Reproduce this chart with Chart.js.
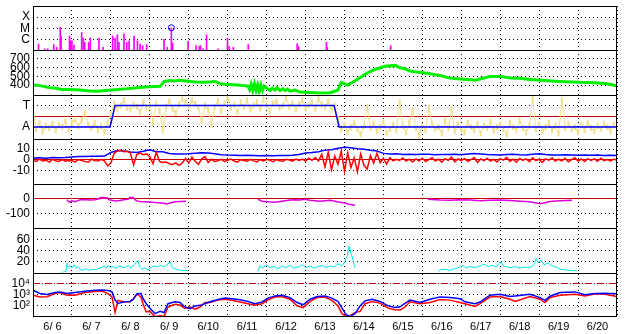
<!DOCTYPE html>
<html lang="en">
<head>
<meta charset="UTF-8">
<title>Space weather summary 6/6 - 6/20</title>
<script src="https://cdn.jsdelivr.net/npm/chart.js@4.4.0/dist/chart.umd.min.js"></script>
<style>
    html, body { margin: 0; padding: 0; background: #fff; }
    .chart-container { position: relative; width: 628px; height: 334px; }
</style>
</head>
<body>
<div class="chart-container"><canvas id="myChart" width="628" height="334"></canvas></div>
<script>
// time is in hours since 6/6 00:00 UT
const dayLabels = ['6/ 6', '6/ 7', '6/ 8', '6/ 9', '6/10', '6/11', '6/12', '6/13',
    '6/14', '6/15', '6/16', '6/17', '6/18', '6/19', '6/20'];

// X-ray flux peaks (W/m2)
const xrayHours = [3.4, 7.2, 9.1, 12.8, 14.6, 16.8, 17.3, 22.5, 23.1, 24.0,
    25.3, 30.0, 31.0, 31.9, 34.3, 35.3, 40.7, 43.2, 49.1, 50.6,
    52.0, 53.0, 56.1, 57.8, 59.2, 62.3, 64.4, 66.0, 67.6, 70.1,
    80.8, 82.8, 85.3, 86.1, 95.6, 100.5, 102.5, 103.3, 104.8, 107.0,
    114.2, 119.9, 121.0, 123.5, 132.7, 162.9, 163.7, 180.9, 181.5, 220.5];
const xrayFlux = [3.8e-7, 1.4e-7, 1.4e-7, 3.3e-7, 1.9e-7, 1.2e-5, 2.0e-6, 2.0e-6, 7.4e-7, 7.4e-7,
    3.1e-7, 4.1e-6, 1.3e-6, 5.3e-7, 5.3e-7, 1.3e-6, 1.3e-6, 1.9e-7, 2.0e-6, 1.3e-6,
    2.5e-6, 5.3e-7, 3.1e-6, 5.3e-7, 7.4e-7, 2.0e-6, 7.4e-7, 3.8e-7, 2.7e-7, 3.3e-7,
    1.0e-6, 1.9e-7, 1.1e-5, 4.6e-7, 6.5e-7, 2.7e-7, 2.3e-7, 2.7e-7, 1.4e-7, 2.5e-6,
    1.4e-7, 1.3e-6, 2.3e-7, 1.9e-7, 3.3e-7, 4.0e-7, 2.2e-7, 5.3e-7, 1.9e-7, 2.7e-7];
const flareMarkHours = [85.3];
const flareMarkFlux = [1.1e-5];

// solar wind speed (km/s)
const windHours = [0, 4.3, 9.2, 13.6, 17.9, 22.8, 29.0, 35.1, 40.1, 44.4,
    50.6, 56.7, 62.9, 69.0, 75.2, 78.3, 79.5, 80.8, 84.5, 87.5,
    90.6, 95.6, 99.9, 106.0, 110.4, 112.2, 115.3, 121.4, 127.6, 132.5,
    133.5, 134.5, 135.5, 136.5, 137.5, 138.5, 139.5, 140.5, 141.5, 142.5,
    146.1, 147.5, 149.2, 150.5, 152.3, 154.0, 155.4, 157.0, 158.4, 161.5,
    164.6, 170.8, 176.9, 183.1, 185.6, 188.0, 189.9, 191.7, 193.6, 196.7,
    200.4, 204.7, 209.0, 212.7, 217.0, 220.1, 223.2, 226.3, 229.3, 232.4,
    235.5, 238.6, 244.8, 250.9, 257.1, 263.2, 269.4, 272.5, 275.6, 281.7,
    287.9, 294.1, 300.2, 306.4, 315.6, 321.8, 328.0, 337.2, 346.5, 352.6,
    357.0, 360];
const windSpeed = [402, 395, 375, 365, 352, 350, 345, 335, 330, 340,
    348, 358, 368, 380, 385, 388, 410, 442, 452, 448,
    455, 445, 435, 432, 440, 445, 415, 408, 398, 390,
    350, 410, 335, 415, 340, 405, 325, 400, 340, 390,
    340, 365, 345, 372, 338, 360, 340, 355, 332, 345,
    322, 318, 312, 315, 328, 345, 430, 420, 400, 430,
    470, 525, 565, 590, 615, 622, 625, 598, 585, 560,
    552, 548, 530, 510, 480, 470, 462, 455, 470, 498,
    500, 482, 478, 465, 452, 445, 440, 432, 428, 420,
    405, 390];

// IMF sector: T = 1, A = -1
const sectorHours = [0, 47.5, 50.6, 185.6, 188.7, 360];
const sectorLevel = [-1, -1, 1, 1, -1, -1];
// IMF angle, 2-hour samples, same units
const phiStep = 2;
const phiValues = [0.8, -1.2, -0.6, -1.4, -0.9, -1.1, -0.7, -1.3, -0.8, -1.0, -0.5, -1.2, -0.6, -0.3, -0.9,
    -0.4, 0.3, -0.8, -1.1, -0.6, -1.3, -0.9, -1.5, -0.7,
    0.2,
    1.2, 0.7, 1.0, 1.5, 0.8, 0.6, 1.1, 0.9, 0.4, 1.3,
    0.8, 1.0, -0.6, 1.2, 0.5, -1.3, 0.9, 1.4, 0.7, 0.3,
    1.1, 1.6, 1.3, 0.9, 1.5, 1.2, 0.8, -0.4, 1.0, 0.6,
    -0.8, 0.9, 1.4, 0.5, 1.2, 1.7, 0.8, 1.1, 0.4, 1.3,
    0.9, 1.5, 0.6, 1.0, 1.3, 0.7, 1.6, 1.1, 0.5, 1.2,
    1.4, 0.8, 1.0, 1.7, 0.9, 1.2, 0.6, 1.1, 1.5, 0.8,
    1.0, 1.3, 0.7, 1.6, 1.1, 0.9, 1.4, 0.6, 1.0,
    -0.2,
    -1.3, -0.8, -1.5, -1.0, -0.6, -1.2, -1.7, -0.9, 0.9, -1.1,
    -0.7, -1.4, -1.0, -0.5, -1.6, -1.2, -0.8, -1.3, 1.3, -0.9,
    -1.5, -0.6, 0.5, -1.1, -1.8, -0.9, -1.3, 0.8, -0.7, -1.2,
    -1.0, -1.6, -0.4, -1.1, 0.6, -1.4, -0.8, -1.2, -1.5, -0.6,
    -1.0, -1.3, -0.7, -1.6, -0.9, -1.1, -0.5, -1.4, -1.0, -0.8,
    -1.2, -1.7, -0.6, -1.0, -1.3, -0.4, -1.1, -1.5, -0.9, 1.7,
    -1.2, -0.8, -1.4, -1.0, -0.6, -1.3, -0.9, -1.6, 1.5, -1.1,
    -0.7, -1.2, -1.0, -1.5, -0.8, -1.3, -0.6, -1.1, -1.4, -0.9,
    -1.2, -0.7, -1.0, -1.4, -0.8, -1.1];

// IMF Bz (2-hour samples) and Bt (4-hour samples), nT
const bzStep = 2;
const bzValues = [-0.5, -1.5, 0.8, -1.0, -0.3, -2.0, 0.5, -0.8, -1.5, 0.2, -1.2, -0.6,
    -0.9, -1.8, 0.3, -0.5, -1.4, -2.2, 0.6, -0.7, -1.0, 0.4, -0.8,
    -5.5, -3.0,
    6.0, 8.2, 8.8, 7.5, 8.0, 6.5,
    -4.5,
    5.0, 6.2, 4.8, 5.5, 3.0,
    -3.5, 7.0, -1.5, -2.5,
    -2.0, -3.5, -4.2, -2.8, -5.0, -3.0,
    1.5, -3.0, 2.5, -1.2, -4.0, 1.0, 3.0, -2.5, 0.5, -1.5,
    -0.8, 0.5, -1.5, -0.4, 0.8, -1.0, -2.0, 0.2, -0.6, -1.2, 0.4, -0.9, -1.8, 0.3,
    -1.0, 0.6, -0.5, -1.6, 0.2, -0.8, -1.3, 0.5, -0.2, -1.1, 0.7, -0.6,
    0.8, -1.2, 1.5, -0.4, 2.2, -0.9,
    5.0, -6.5, 7.0, -9.0, 3.5, -4.0, 8.0,
    -10.5, 6.5, -7.0, 2.0, -11.0, 5.5, -5.0, -8.5, 4.0, -3.0, 6.0,
    -2.5, 1.5, -4.0, 2.0, -1.0, 0.5,
    -0.5, 1.8, -1.2, 0.6, -2.0, 0.9, -0.8, 1.5, -1.5, 0.3,
    2.0, -1.0, 0.7, -2.2, 1.2, -0.4, 2.5, -1.8, 0.8, -0.6,
    1.4, -1.3, 0.2, 2.2, -2.5, 0.9, -0.7, 1.6, -1.1, 0.4,
    -1.9, 1.1, -0.3, 2.4, -1.4, 0.6, -2.1, 1.3, -0.5, 0.9,
    -1.6, 1.8, -0.8, 0.5, -2.3, 1.0, -0.2, 1.7, -1.2, 0.6,
    -0.9, 1.4, -1.7, 0.3, 2.0, -1.0, 0.8, -1.5, 1.2, -0.4,
    0.9, -1.3, 1.6, -0.7, 0.4, -1.1, 0.7, -0.3];
const btStep = 4;
const btValues = [1.8, 2.0, 1.6, 2.2, 1.9, 2.1, 2.6, 3.0, 3.2, 3.4, 3.3, 3.5,
    6.8, 8.6, 8.3, 7.2, 6.9, 8.0, 9.4, 7.6, 7.4, 5.8,
    5.5, 5.4, 5.6, 6.2, 6.5, 6.3, 5.6, 4.8, 4.4, 4.2,
    4.0, 4.3, 4.1, 3.9, 4.0, 3.8, 4.1, 4.0, 4.2, 5.0,
    6.3, 6.8, 7.5, 9.0, 9.3, 10.8, 11.6, 11.2, 10.2, 9.8,
    8.8, 8.2, 6.0, 5.4, 5.6, 5.0, 5.2, 4.9, 5.3, 5.1,
    4.8, 5.0, 4.9, 5.2, 4.7, 5.5, 5.8, 5.4, 5.0, 4.8,
    4.6, 4.9, 5.1, 4.7, 4.5, 5.2, 5.6, 5.0, 4.6, 4.4,
    4.8, 4.5, 4.3, 4.6, 4.2, 4.5, 4.1, 4.3, 4.0];

// Dst (nT), null = no data
const dstHours = [21.0, 21.6, 22.8, 24.0, 25.9, 27.7, 29.0, 32.1, 35.1, 38.2,
    40.7, 41.3, 43.2, 45.6, 46.9, 48.7, 50.6, 53.6, 56.7, 58.6,
    59.8, 61.7, 62.9, 64.1, 66.0, 69.0, 72.1, 75.2, 78.3, 81.4,
    82.6, 84.5, 87.5, 90.6, 94.3, 110,
    138.7, 141.2, 144.9, 149.2, 152.3, 155.4, 158.4, 161.5, 164.6, 167.7,
    170.8, 173.9, 176.9, 180.0, 183.1, 186.2, 189.3, 192.3, 195.5, 198.5, 220,
    243.5, 250.9, 257.1, 263.2, 269.4, 275.6, 281.7, 287.9, 294.1, 300.2,
    306.4, 312.6, 315.6, 318.7, 324.9, 332.3];
const dstValues = [-8, -20, -24, -15, -22, -14, -9, -9, -10, -8,
    -2, 5, 7, 6, -8, -12, -16, -14, -6, -5,
    7, 7, -8, -16, -20, -22, -24, -27, -28, -33,
    -37, -30, -22, -20, -18, null,
    -5, -18, -22, -25, -20, -15, -10, -8, -10, -5,
    -12, -15, -18, -15, -12, -18, -25, -30, -40, -45, null,
    -5, -10, -12, -8, -10, -15, -12, -10, -14, -18,
    -22, -35, -28, -20, -15, -12];

// cyan index, null = no data
const kpHours = [17.3, 20.3, 21.0, 21.6, 22.8, 24.0, 25.3, 26.5, 27.7, 29.0,
    30.8, 32.7, 34.5, 36.4, 38.2, 40.1, 41.9, 43.8, 45.0, 46.2,
    47.5, 49.3, 51.2, 53.0, 54.9, 56.7, 58.6, 60.4, 62.3, 64.7,
    65.9, 67.2, 69.0, 70.9, 72.7, 74.6, 76.4, 78.3, 80.1, 82.0,
    84.5, 85.7, 87.5, 89.4, 91.2, 93.1, 95.6, 110,
    138.7, 139.9, 141.8, 143.6, 146.1, 148.6, 151.0, 153.5, 156.0, 158.4,
    160.9, 163.4, 165.8, 168.3, 170.8, 173.2, 175.7, 178.2, 180.6, 183.1,
    185.6, 188.0, 190.5, 192.3, 193.6, 194.8, 196.0, 197.3, 198.5, 220,
    249.7, 250.9, 254.0, 257.1, 260.2, 263.2, 265.1, 266.9, 269.4, 272.5,
    275.6, 278.0, 280.5, 283.0, 285.4, 287.3, 288.5, 289.7, 292.2, 294.7,
    297.2, 300.2, 303.3, 306.4, 308.9, 310.1, 311.3, 313.2, 315.0, 317.5,
    320.0, 322.4, 324.9, 328.0, 331.1, 335.4];
const kpValues = [0, 2, 17, 10, 13, 9, 14, 8, 11, 6,
    4, 7, 4, 6, 5, 7, 9, 12, 8, 13,
    9, 11, 8, 12, 10, 9, 13, 8, 14, 22,
    10, 6, 8, 5, 9, 12, 10, 13, 11, 12,
    19, 9, 7, 5, 4, 4, 3, null,
    2, 12, 8, 14, 9, 11, 7, 12, 9, 13,
    8, 10, 14, 9, 12, 8, 11, 13, 9, 12,
    10, 16, 12, 20, 30, 48, 35, 22, 8, null,
    2, 5, 6, 4, 7, 10, 13, 8, 11, 9,
    12, 15, 11, 13, 10, 16, 20, 12, 10, 9,
    11, 8, 10, 9, 14, 25, 18, 22, 14, 17,
    12, 10, 6, 5, 4, 3];

// electron flux (two channels)
const eHours = [0, 4.3, 8.6, 13.6, 16.6, 21.0, 25.9, 32.1, 38.2, 42.5,
    46.2, 48.7, 50.6, 52.4, 56.1, 59.8, 61.7, 64.1, 66.6, 67.8,
    69.7, 72.1, 75.2, 78.3, 80.8, 83.2, 87.5, 90.6, 93.7, 96.8,
    99.9, 103.0, 106.0, 109.1, 114.1, 118.4, 122.7, 127.6, 132.5, 136.9,
    141.2, 144.9, 149.2, 153.5, 158.4, 162.8, 166.5, 170.8, 175.1, 180.0,
    184.3, 188.0, 190.5, 193.0, 195.5, 198.5, 201.6, 204.7, 209.0, 213.9,
    218.9, 223.2, 226.3, 229.3, 232.4, 238.6, 244.8, 250.9, 257.1, 263.2,
    266.3, 272.5, 275.6, 281.7, 287.9, 294.1, 297.2, 306.4, 312.6, 315.6,
    318.7, 324.9, 334.1, 340.3, 346.5, 352.6, 360];
const eFluxBlue = [2570, 1320, 1070, 1590, 1820, 1320, 1590, 2090, 2570, 2630,
    2400, 1820, 331, 166, 234, 251, 380, 1260, 1320, 468,
    166, 60, 20, 32, 25, 158, 234, 200, 79, 56,
    100, 112, 158, 234, 380, 501, 447, 355, 251, 158,
    224, 501, 794, 891, 562, 200, 126, 398, 708, 794,
    501, 251, 63, 16, 11, 20, 100, 282, 398, 251,
    100, 71, 83, 166, 331, 200, 398, 646, 562, 447,
    234, 158, 224, 912, 1120, 708, 794, 1120, 562, 316,
    741, 1590, 1820, 1000, 1320, 1410, 1260];
const eFluxRed = [912, 646, 661, 1320, 1590, 912, 891, 1590, 2000, 2140,
    1260, 631, 25, 316, 234, 234, 398, 1120, 631, 158,
    30, 32, 11, 13, 11, 79, 141, 120, 60, 79,
    50, 79, 200, 200, 331, 398, 316, 224, 158, 112,
    158, 355, 631, 708, 398, 100, 71, 251, 562, 631,
    316, 100, 20, 11, 13, 25, 32, 158, 251, 178,
    63, 45, 43, 79, 234, 158, 200, 380, 331, 200,
    158, 89, 158, 631, 708, 398, 251, 708, 398, 200,
    562, 912, 1120, 794, 1260, 1120, 708];

// ---------------------------------------------------------------
const FONT = { family: 'Liberation Sans, Arial, sans-serif', size: 11 };
const YFONT = { family: 'Liberation Sans, Arial, sans-serif', size: 12 };
const DOT = [1, 3];
const DARKRED = '#c00000';

function pairs(xs, ys) {
    return xs.map((x, i) => ({ x: x, y: ys[i] }));
}
function stepped(step, ys) {
    return ys.map((y, i) => ({ x: i * step, y: y }));
}

// one stacked panel axis; refs maps tick index -> special line style
function panelAxis(type, min, max, tickValues, tickLabels, refs) {
    refs = refs || {};
    return {
        type: type, position: 'left', stack: 'panels', stackWeight: 1,
        min: min, max: max, bounds: 'data', offset: false,
        border: { display: false, dash: ctx => (refs[ctx.index] ? refs[ctx.index].dash : DOT) },
        grid: {
            drawTicks: false, lineWidth: 1,
            color: ctx => (refs[ctx.index] ? refs[ctx.index].color : '#000')
        },
        ticks: {
            autoSkip: false, padding: 3, color: '#000', font: YFONT,
            callback: (v, i) => tickLabels[i]
        },
        afterBuildTicks: s => { s.ticks = tickValues.map(v => ({ value: v })); },
        afterFit: s => { s.width = 33; s.paddingTop = 0; s.paddingBottom = 0; }
    };
}

const lineBase = { pointRadius: 0, tension: 0, fill: false, parsing: false };

const panelFrame = {
    id: 'panelFrame',
    afterDraw(chart) {
        const { ctx, chartArea: a } = chart;
        ctx.save();
        ctx.strokeStyle = '#000';
        ctx.lineWidth = 1;
        ctx.strokeRect(Math.round(a.left) + 0.5, Math.round(a.top) + 0.5,
            Math.round(a.right - a.left) - 1, Math.round(a.bottom - a.top) - 1);
        ['yX', 'yV', 'yS', 'yB', 'yD', 'yK'].forEach(id => {
            const y = Math.round(chart.scales[id].bottom) + 0.5;
            ctx.beginPath();
            ctx.moveTo(a.left, y);
            ctx.lineTo(a.right, y);
            ctx.stroke();
        });
        ctx.restore();
    }
};

const ctx = document.getElementById('myChart').getContext('2d');

new Chart(ctx, {
    type: 'line',
    data: {
        datasets: [
            { type: 'line', data: pairs(flareMarkHours, flareMarkFlux), yAxisID: 'yX', showLine: false,
              pointRadius: 3, pointBorderColor: '#0000ff', pointBackgroundColor: 'rgba(0,0,0,0)',
              pointBorderWidth: 1, parsing: false },
            { type: 'bar', data: pairs(xrayHours, xrayFlux), yAxisID: 'yX', backgroundColor: '#ff00ff',
              barThickness: 1, borderWidth: 0, parsing: false },
            Object.assign({ data: pairs(windHours, windSpeed), yAxisID: 'yV', borderColor: '#00f000', borderWidth: 3 }, lineBase),
            Object.assign({ data: pairs(sectorHours, sectorLevel), yAxisID: 'yS', borderColor: '#0000ff', borderWidth: 1.5 }, lineBase),
            Object.assign({ data: stepped(phiStep, phiValues), yAxisID: 'yS', borderColor: '#f2df8a', borderWidth: 1 }, lineBase,
                { pointRadius: 3, pointStyle: 'line', rotation: 90, pointBorderWidth: 2,
                  pointBorderColor: '#f2df8a', pointBackgroundColor: '#f2df8a' }),
            Object.assign({ data: stepped(bzStep, bzValues), yAxisID: 'yB', borderColor: '#ff0000', borderWidth: 1.5 }, lineBase),
            Object.assign({ data: stepped(btStep, btValues), yAxisID: 'yB', borderColor: '#0000ff', borderWidth: 1.5 }, lineBase),
            Object.assign({ data: pairs(dstHours, dstValues), yAxisID: 'yD', borderColor: '#dd00dd', borderWidth: 1.5 }, lineBase),
            Object.assign({ data: pairs(kpHours, kpValues), yAxisID: 'yK', borderColor: '#00e8e8', borderWidth: 1 }, lineBase),
            Object.assign({ data: pairs(eHours, eFluxBlue), yAxisID: 'yE', borderColor: '#0000ff', borderWidth: 1.5 }, lineBase),
            Object.assign({ data: pairs(eHours, eFluxRed), yAxisID: 'yE', borderColor: '#ff0000', borderWidth: 1.5 }, lineBase)
        ]
    },
    options: {
        responsive: false,
        animation: false,
        events: [],
        layout: { padding: { top: 2, right: 11, left: 0, bottom: 0 } },
        plugins: { legend: { display: false }, tooltip: { enabled: false } },
        scales: {
            x: {
                type: 'linear', min: 0, max: 360, offset: false, bounds: 'data',
                border: { display: false, dash: DOT },
                grid: { offset: true, drawTicks: false, color: '#000', lineWidth: 1 },
                ticks: {
                    autoSkip: false, maxRotation: 0, padding: 3, color: '#000', font: FONT,
                    callback: (v, i) => dayLabels[i]
                },
                afterBuildTicks: s => { s.ticks = dayLabels.map((d, i) => ({ value: 12 + 24 * i })); },
                afterFit: s => { s.height = 17; s.paddingLeft = 0; s.paddingRight = 0; }
            },
            yE: panelAxis('logarithmic', 10, 1e5, [1e4, 1e3, 1e2], ['10\u2074', '10\u00b3', '10\u00b2'],
                { 0: { color: DARKRED, dash: [7, 2, 1, 2] } }),
            yK: panelAxis('linear', 0, 80, [60, 40, 20], ['60', '40', '20']),
            yD: panelAxis('linear', -200, 100, [0, -100], ['0', '-100'],
                { 0: { color: DARKRED, dash: [] } }),
            yB: panelAxis('linear', -22, 19, [10, 0, -10], ['10', '0', '-10'],
                { 1: { color: DARKRED, dash: [] } }),
            yS: panelAxis('linear', -2.15, 2, [1, 0, -1], ['T', '', 'A'],
                { 1: { color: DARKRED, dash: [] } }),
            yV: panelAxis('linear', 290, 795, [700, 600, 500, 400], ['700', '600', '500', '400']),
            yX: panelAxis('logarithmic', 1e-7, 1e-3, [1e-4, 1e-5, 1e-6], ['X', 'M', 'C'])
        }
    },
    plugins: [panelFrame]
});
</script>
</body>
</html>
